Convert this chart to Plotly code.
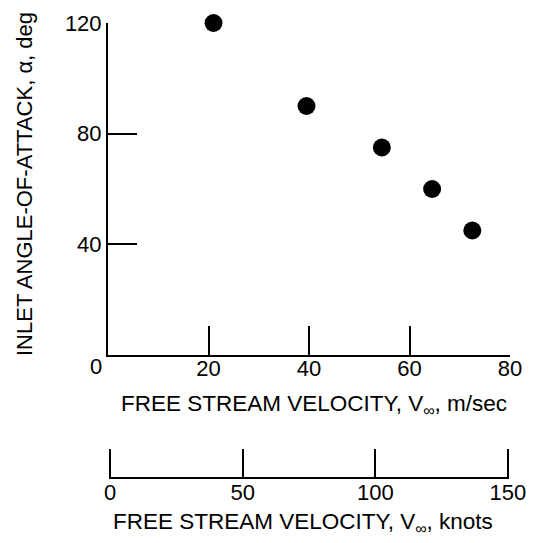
import plotly.graph_objects as go

# Data
velocity_ms = [21, 39.5, 54.5, 64.5, 72.5]
alpha_deg = [120, 90, 75, 60, 45]

y_ticks = [40, 80, 120]
x_ticks = [20, 40, 60, 80]
knot_ticks = [0, 50, 100, 150]

W, H = 536, 543
OFF = 8  # page body margin
FONT = "Liberation Sans, Arial, sans-serif"

def px_x(p):
    return (p - OFF) / W

def px_y(p):
    return 1 - (p - OFF) / H

fig = go.Figure()
fig.add_trace(go.Scatter(
    x=velocity_ms, y=alpha_deg, mode="markers",
    marker=dict(size=18, color="black"),
    cliponaxis=False, showlegend=False, xaxis="x", yaxis="y",
))
# invisible trace to hold the knots axis
fig.add_trace(go.Scatter(
    x=[0, 150], y=[0, 1], mode="markers", marker=dict(opacity=0),
    showlegend=False, xaxis="x2", yaxis="y2", hoverinfo="skip",
))

fig.update_layout(
    width=W, height=H,
    margin=dict(l=0, r=0, t=0, b=0, autoexpand=False),
    paper_bgcolor="white", plot_bgcolor="white",
    font=dict(family=FONT, color="black", size=22),
    xaxis=dict(
        domain=[px_x(108), px_x(510)], range=[0, 80],
        showline=True, linecolor="black", linewidth=2,
        showgrid=False, zeroline=False, automargin=False,
        ticks="inside", ticklen=29, tickwidth=1.5, tickcolor="black",
        tickvals=x_ticks, ticktext=[str(v) for v in x_ticks],
        tickfont=dict(size=22, family=FONT),
        ticklabelstandoff=-7,
        anchor="y",
    ),
    yaxis=dict(
        domain=[px_y(355), px_y(23)], range=[0, 120],
        showline=True, linecolor="black", linewidth=2,
        showgrid=False, zeroline=False, automargin=False,
        ticks="inside", ticklen=29, tickwidth=1.5, tickcolor="black",
        tickvals=y_ticks, ticktext=[str(v) for v in y_ticks],
        tickfont=dict(size=22, family=FONT),
        anchor="x",
    ),
    xaxis2=dict(
        domain=[px_x(109), px_x(509)], range=[-0.4, 150.4],
        showline=True, linecolor="black", linewidth=2,
        showgrid=False, zeroline=False, automargin=False,
        ticks="inside", ticklen=28, tickwidth=1.5, tickcolor="black",
        tickvals=knot_ticks, ticktext=[str(v) for v in knot_ticks],
        tickfont=dict(size=22, family=FONT),
        ticklabelstandoff=-5,
        anchor="y2",
    ),
    yaxis2=dict(
        domain=[px_y(477), px_y(440)], range=[0, 1],
        visible=False, anchor="x2",
    ),
)

fig.add_annotation(
    text="0", xref="x", yref="paper", x=0, y=px_y(366),
    xanchor="right", yanchor="middle", xshift=-4, showarrow=False,
    font=dict(size=22, family=FONT),
)
fig.add_annotation(
    text="FREE STREAM VELOCITY, V<sub>∞</sub>, m/sec",
    xref="paper", yref="paper", x=px_x(314), y=px_y(405),
    xanchor="center", yanchor="middle", showarrow=False,
    font=dict(size=22.5, family=FONT),
)
fig.add_annotation(
    text="FREE STREAM VELOCITY, V<sub>∞</sub>, knots",
    xref="paper", yref="paper", x=px_x(303), y=px_y(523),
    xanchor="center", yanchor="middle", showarrow=False,
    font=dict(size=22.5, family=FONT),
)
fig.add_annotation(
    text="INLET ANGLE-OF-ATTACK, α, deg",
    xref="paper", yref="paper", x=px_x(24), y=px_y(184),
    xanchor="center", yanchor="middle", showarrow=False, textangle=-90,
    font=dict(size=22, family=FONT),
)

fig.write_html("out.html")
